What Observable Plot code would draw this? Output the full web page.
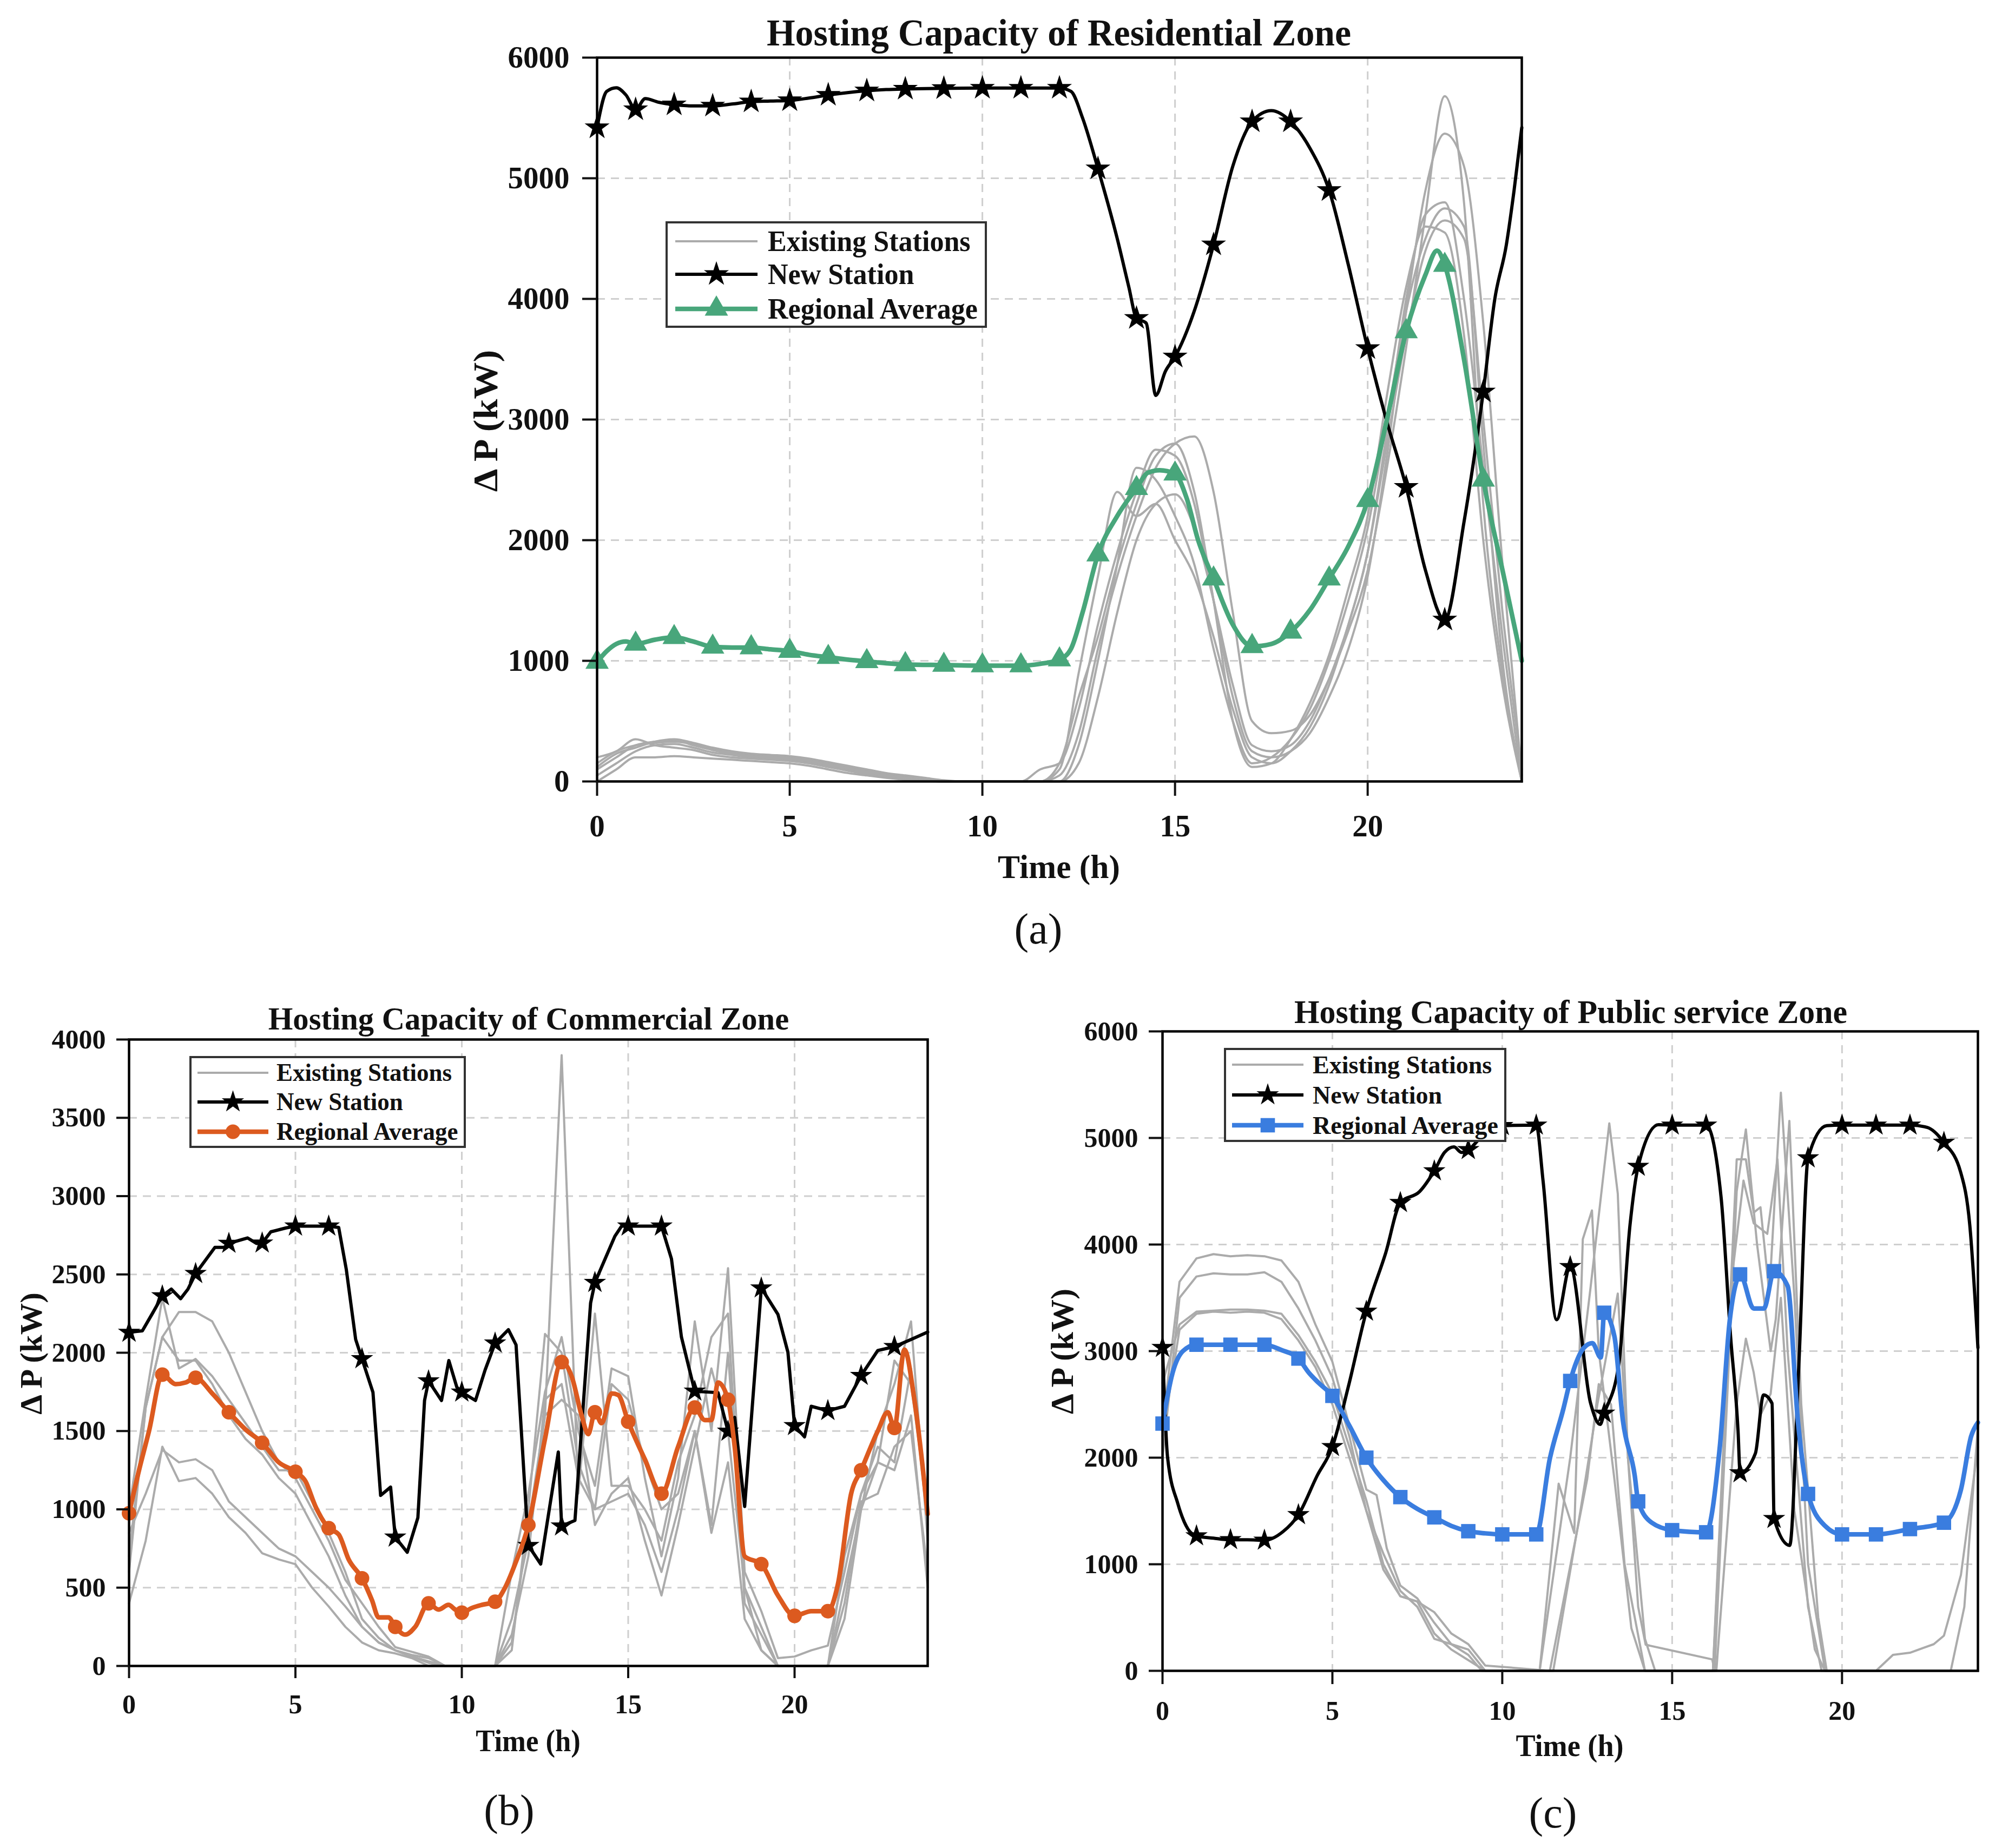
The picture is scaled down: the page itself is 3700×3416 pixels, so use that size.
<!DOCTYPE html>
<html><head><meta charset="utf-8">
<script src="https://cdn.jsdelivr.net/npm/d3@7"></script>
<script src="https://cdn.jsdelivr.net/npm/@observablehq/plot@0.6"></script>
<style>
body{margin:0;background:#fff;}
#page{position:relative;width:3700px;height:3416px;background:#fff;overflow:hidden;font-family:"Liberation Serif","Times New Roman",serif;color:#111;}
.abs{position:absolute;white-space:nowrap;line-height:1;font-family:"Liberation Serif","Times New Roman",serif;}
.legend{position:absolute;border:4px solid #333;background:#fff;box-sizing:border-box;}
</style></head><body><div id="page"></div>
<script>
// ---------------- DATA ----------------
const halfHours = [0,0.5,1,1.5,2,2.5,3,3.5,4,4.5,5,5.5,6,6.5,7,7.5,8,8.5,9,9.5,10,10.5,11,11.5,12,12.5,13,13.5,14,14.5,15,15.5,16,16.5,17,17.5,18,18.5,19,19.5,20,20.5,21,21.5,22,22.5,23,23.5,24];
const xTicks = [0,5,10,15,20];

// (a) Residential
const resNewT = [0,0.25,0.5,0.75,1,1.25,1.6,2,2.5,3,3.5,4,4.5,5,5.5,6,6.5,7,7.5,8,9,10,11,12,12.3,12.6,13,13.5,13.8,14,14.25,14.5,14.75,15,15.5,16,16.5,17,17.5,18,18.5,19,19.5,20,20.5,21,21.5,22,22.5,23,23.3,23.6,23.8,24];
const resNewP = [5420,5720,5750,5690,5570,5660,5630,5610,5600,5600,5615,5635,5640,5645,5665,5690,5710,5725,5735,5740,5745,5748,5748,5748,5720,5500,5080,4500,4100,3840,3800,3200,3400,3520,3900,4450,5100,5470,5560,5470,5250,4900,4280,3590,2980,2440,1750,1340,2150,3230,4000,4450,4900,5420];
const resAvgT = [0,0.25,0.5,0.75,1,1.5,2,2.5,3,3.5,4,4.5,5,5.5,6,6.5,7,7.5,8,9,10,11,11.5,12,12.3,12.6,13,13.5,14,14.3,14.6,15,15.3,15.6,16,16.5,17,17.5,18,18.5,19,19.5,20,20.5,21,21.5,21.8,22,22.5,23,23.5,24];
const resAvgP = [990,1080,1140,1160,1140,1175,1195,1160,1115,1110,1110,1095,1080,1050,1030,1010,995,980,970,965,960,960,975,1010,1100,1400,1880,2200,2430,2560,2580,2550,2350,2000,1680,1300,1120,1140,1240,1420,1680,1950,2330,3000,3730,4200,4400,4280,3500,2500,1750,1000];
const resExisting1 = [150,250,300,320,330,310,270,240,220,210,200,180,150,120,90,60,40,20,5,0,0,0,0,0,50,400,1100,1700,2200,2600,2800,2860,2400,1400,500,400,420,550,850,1250,1750,2600,3600,4700,5680,4800,2300,900,0];
const resExisting2 = [50,150,250,300,310,280,240,220,200,190,180,160,130,100,70,40,20,10,0,0,0,0,0,100,150,600,1300,1900,2400,2750,2700,2300,1500,700,250,200,250,400,700,1100,1700,2700,3900,4900,5370,5100,3800,1800,50];
const resExisting3 = [200,250,350,300,280,260,220,200,190,180,170,150,120,90,60,40,20,10,0,0,0,0,0,0,100,900,1700,2400,2200,2300,2000,1700,1200,600,200,150,250,450,800,1300,1900,2900,4000,4700,4800,4000,2600,1200,0];
const resExisting4 = [100,200,300,330,340,300,260,230,210,200,190,170,140,110,80,50,30,10,0,0,0,0,0,0,0,300,1000,1800,2600,2500,2200,1800,1100,500,150,200,350,600,1000,1500,2100,3000,3900,4500,4750,4600,2800,1000,0];
const resExisting5 = [0,100,200,200,210,200,190,180,170,160,150,130,100,70,50,30,15,5,0,0,0,0,0,0,0,150,700,1400,2000,2300,2380,2100,1500,800,300,250,300,500,850,1300,1900,2800,3700,4400,4650,4500,3000,1400,100];
const resExisting6 = [120,230,280,330,350,320,280,250,230,220,210,190,160,130,100,70,50,30,10,0,0,0,0,0,150,700,1200,1800,2300,2700,2800,2400,1500,500,120,150,350,650,1050,1600,2200,3200,4100,4600,4550,3700,2000,800,0];

// (b) Commercial
const comNewT = [0,0.4,0.7,1,1.27,1.55,1.77,2,2.58,2.86,3,3.56,3.83,4,4.26,4.72,5,5.5,6,6.3,6.53,6.81,7,7.33,7.56,7.86,8,8.36,8.68,8.88,9,9.39,9.61,9.85,10,10.41,10.7,11,11.4,11.63,12,12.37,12.9,13,13.4,13.87,14,14.6,14.8,15,16,16.3,16.6,17,17.3,17.7,18,18.2,18.5,19,19.5,19.8,20,20.3,20.5,21,21.5,22,22.5,23,23.5,24];
const comNewP = [2130,2140,2250,2363,2406,2345,2406,2505,2673,2673,2698,2733,2698,2700,2772,2797,2808,2808,2808,2800,2530,2085,1961,1747,1089,1142,822,726,947,1695,1820,1695,1950,1780,1748,1695,1890,2061,2147,2050,769,651,1366,893,929,2317,2448,2744,2808,2808,2808,2600,2100,1754,1750,1745,1498,1587,1018,2413,2245,2003,1534,1463,1658,1630,1658,1854,2014,2039,2085,2132];
const comAvgT = [0,0.3,0.6,1,1.4,1.7,2,2.5,3,3.5,4,4.5,5,5.3,5.6,6,6.3,6.6,7,7.3,7.5,7.8,8,8.3,8.6,9,9.3,9.6,9.8,10,10.3,10.6,11,11.3,11.6,12,12.5,13,13.3,13.6,13.8,14,14.2,14.5,14.7,15,15.5,16,16.5,17,17.3,17.5,17.7,18,18.2,18.5,19,19.5,20,20.5,21,21.3,21.7,22,22.5,22.8,23,23.3,23.6,24];
const comAvgP = [975,1250,1500,1860,1800,1810,1840,1740,1620,1510,1425,1300,1240,1180,1020,880,840,680,560,420,310,310,250,200,250,400,360,390,360,340,370,390,410,500,650,900,1450,1940,1850,1600,1480,1620,1550,1740,1730,1560,1320,1100,1400,1650,1570,1570,1810,1700,1400,700,650,450,320,350,350,520,1100,1250,1500,1620,1520,2020,1700,970];
const comExisting1 = [600,1650,2100,2260,2260,2200,2000,1750,1500,1300,1200,1000,800,550,400,250,120,90,60,0,0,0,0,600,1100,1750,2100,1500,1150,1900,1850,1200,700,1200,2200,1500,2540,600,350,50,60,100,130,600,1100,1300,1950,1800,1000];
const comExisting2 = [1000,1700,2350,1900,1960,1850,1700,1550,1400,1250,1250,1050,850,600,300,180,100,70,50,0,0,0,0,300,800,1600,3900,1100,2250,1150,1150,1000,800,1300,1600,2100,2250,400,200,0,0,0,0,500,1000,1500,1800,2200,800];
const comExisting3 = [850,1100,1380,1300,1320,1250,1050,950,850,750,700,600,500,380,250,150,100,60,20,0,0,0,0,200,700,1700,1800,1200,1000,1050,1100,900,600,1000,1500,850,1300,300,100,0,0,0,0,400,1050,1100,1400,1500,600];
const comExisting4 = [400,800,1400,1180,1200,1100,950,850,720,680,650,500,380,250,150,100,80,50,0,0,0,0,0,150,900,1600,1700,1600,900,1100,1200,800,450,900,1400,1900,1500,500,250,0,0,0,0,300,1000,1300,1250,1600,500];
const comExisting5 = [700,1650,2100,1950,1950,1800,1600,1450,1350,1200,1100,900,700,450,250,150,100,60,30,0,0,0,0,100,1000,2120,2000,1300,1000,1800,1700,1300,1000,1100,1500,900,2000,500,100,0,0,0,0,700,1100,1400,1300,1900,900];

// (c) Public service
const pubNewT = [0,0.15,0.45,0.75,1,1.5,2,2.5,3,3.55,4,4.55,5,5.47,6,6.57,7,7.57,8,8.3,8.58,8.8,9,9.58,10,11,11.2,11.6,12,12.6,12.88,13,13.43,13.76,14,14.6,15,16,16.44,16.72,16.94,17,17.45,17.69,17.94,18,18.46,18.73,19,19.55,20,21,22,22.5,23,23.49,23.76,24];
const pubNewP = [3033,2000,1570,1330,1266,1245,1230,1230,1225,1307,1464,1830,2103,2667,3373,3922,4393,4498,4691,4864,4916,4864,4890,5073,5115,5120,4600,3295,3792,2510,2312,2416,2877,4184,4733,5125,5120,5120,4445,3138,2249,1857,2040,2589,2510,1428,1177,2877,4812,5115,5120,5120,5120,5100,4958,4680,4184,3033];
const pubAvgT = [0,0.3,0.6,1,2,3,3.5,4,4.3,4.6,5,5.5,6,6.5,7,7.5,8,8.5,9,9.5,10,11,11.4,11.8,12,12.4,12.65,12.9,13,13.3,13.55,13.9,14,14.4,15,16,16.4,16.7,16.9,17,17.4,17.7,18,18.4,18.7,19,19.5,20,21,22,23,23.5,23.8,24];
const pubAvgP = [2320,2800,3000,3060,3060,3060,3010,2930,2800,2700,2580,2300,2000,1790,1630,1520,1440,1360,1310,1290,1280,1280,1990,2460,2720,3030,3075,2940,3360,3140,2350,1830,1590,1390,1320,1300,2090,3300,3660,3720,3400,3400,3750,3610,2350,1660,1360,1280,1280,1330,1390,1700,2200,2330];
const pubExisting1T = [0,0.5,1,1.5,2,2.5,3,3.5,4,4.5,5,5.5,6,6.3,6.6,7,7.5,8,8.5,9,9.4,11.1,11.66,12.12,12.37,12.64,12.84,13.3,13.8,14.2,16.2,16.9,17.17,17.4,17.6,17.86,18.2,18.6,19.0,19.5,23.2,23.6,24];
const pubExisting1P = [2300,3650,3870,3910,3890,3900,3890,3850,3650,3250,2900,2300,1700,1650,1150,800,680,450,250,150,0,0,1756,1294,4050,4320,3000,1800,400,0,0,4800,4800,4300,4350,3540,5425,3500,1000,0,0,600,2300];
const pubExisting2T = [0,0.5,1,1.5,2,2.5,3,3.5,4,4.5,5,5.5,6,6.5,7,7.5,8,8.5,9,9.5,11.1,12,12.6,13.15,13.4,13.7,14.0,14.22,16.18,16.25,16.9,17.17,17.5,17.9,18.05,18.45,18.8,19.3,19.55,21.0,21.5,22,22.7,23,23.5,24];
const pubExisting2P = [2000,3500,3700,3730,3720,3720,3740,3650,3400,3100,2750,2200,1500,950,700,650,350,200,100,0,0,2000,3600,5137,4477,2000,600,245,107,0,4500,5080,4000,3000,3300,5160,2500,500,0,0,150,170,250,330,900,2100];
const pubExisting3T = [0,0.5,1,1.5,2,2.5,3,3.5,4,4.5,5,5.5,6,6.5,7,7.5,8,8.5,9,9.5,11.4,12.5,12.84,13.2,13.6,14.2,16.3,16.9,17.17,17.4,17.6,17.9,18.2,18.6,19.2,19.5,24];
const pubExisting3P = [2700,3250,3370,3380,3390,3390,3380,3350,3150,2900,2600,2100,1600,1000,700,650,550,350,250,50,0,1800,2690,2500,1000,0,0,2500,3117,2800,2400,2600,3500,1500,200,0,0];
const pubExisting4T = [0,0.5,1,1.5,2,2.5,3,3.5,4,4.5,5,5.5,6,6.5,7,7.5,8,8.5,9,9.5,11.5,12.3,12.8,13.4,13.7,14.2,14.5,16.2,16.8,17.1,17.4,17.8,18.1,18.4,19.0,19.4,24];
const pubExisting4P = [2200,3200,3350,3370,3360,3370,3360,3300,3100,2850,2500,2000,1500,1100,750,600,300,250,200,0,0,1500,2500,3540,2000,300,0,0,3800,4600,4200,4100,4800,3000,600,0,0];

const legendLabels = ["Existing Stations","New Station","Regional Average"];
const titles = ["Hosting Capacity of Residential Zone","Hosting Capacity of Commercial Zone","Hosting Capacity of Public service Zone"];
const yTicksA = [0,1000,2000,3000,4000,5000,6000];
const yTicksB = [0,500,1000,1500,2000,2500,3000,3500,4000];
const yTicksC = [0,1000,2000,3000,4000,5000,6000];

// ---------------- helpers ----------------
const rows = (t, p, s) => t.map((x, i) => ({t: x, p: p[i], s}));
const greyRows = (list) => list.flatMap((e, k) => Array.isArray(e) ? rows(halfHours, e, "s" + k) : rows(e.t, e.p, "s" + k));
const markers = (r) => r.filter(d => Number.isInteger(d.t) && d.t < 24);
const page = document.getElementById("page");
const FONT = '"Liberation Serif","Times New Roman",serif';
const W_GREY = 4, W_NEW = 6, W_AVG = 8.5, GREY = "#ababab";

function drawPanel(cfg) {
  const [x0, y0, x1, y1] = cfg.frame;
  const mL = 220, mR = 40, mT = 40, mB = 140;
  const W = x1 - x0 + mL + mR, H = y1 - y0 + mT + mB;
  const newR = rows(cfg.newT, cfg.newP, "new");
  const avgR = rows(cfg.avgT, cfg.avgP, "avg");
  const gridStyle = {stroke: "#cfcfcf", strokeOpacity: 1, strokeWidth: 3, strokeDasharray: "15,11"};
  const chart = Plot.plot({
    width: W, height: H, marginLeft: mL, marginRight: mR, marginTop: mT, marginBottom: mB,
    style: {fontFamily: FONT, fontSize: cfg.tickFont + "px", fontWeight: "bold", color: "#111", background: "none", overflow: "visible"},
    x: {domain: [0, 24], label: null},
    y: {domain: [0, cfg.yTicks[cfg.yTicks.length - 1]], label: null},
    marks: [
      Plot.gridX(xTicks.slice(1), gridStyle),
      Plot.gridY(cfg.yTicks.slice(1, -1), gridStyle),
      Plot.line(greyRows(cfg.existing), {x: "t", y: "p", z: "s", stroke: GREY, strokeWidth: W_GREY, curve: cfg.greyCurve}),
      Plot.line(newR, {x: "t", y: "p", stroke: "#000", strokeWidth: W_NEW, curve: cfg.newCurve}),
      Plot.dot(markers(newR), {x: "t", y: "p", symbol: "star", fill: "#000", r: cfg.starR}),
      Plot.line(avgR, {x: "t", y: "p", stroke: cfg.color, strokeWidth: W_AVG, curve: "monotone-x"}),
      Plot.dot(markers(avgR), {x: "t", y: "p", symbol: cfg.symbol, fill: cfg.color, r: cfg.symR}),
      Plot.frame({stroke: "#000", strokeWidth: 4.5}),
      Plot.axisX(xTicks, {anchor: "bottom", tickSize: cfg.tickSize, tickPadding: cfg.xPad, strokeWidth: 4, tickFormat: d => String(d), label: null}),
      Plot.axisY(cfg.yTicks, {anchor: "left", tickSize: cfg.tickSize, tickPadding: cfg.yPad, strokeWidth: 4, tickFormat: d => String(d), label: null})
    ]
  });
  d3.select(chart).selectAll("text")
    .style("font-family", FONT).style("font-weight", "bold").style("font-size", cfg.tickFont + "px");
  const wrap = document.createElement("div");
  wrap.style.cssText = `position:absolute;left:${x0 - mL}px;top:${y0 - mT}px;width:${W}px;height:${H}px;`;
  wrap.appendChild(chart);
  page.appendChild(wrap);
}

function addText(txt, x, y, size, opt = {}) {
  const d = document.createElement("div");
  d.className = "abs";
  d.textContent = txt;
  d.style.left = x + "px"; d.style.top = y + "px";
  d.style.fontSize = size + "px";
  d.style.fontWeight = opt.normal ? "normal" : "bold";
  page.appendChild(d);
  let tr = "translate(-50%,-50%)";
  if (opt.rotate) tr += " rotate(-90deg)";
  if (opt.width) tr += ` scaleX(${opt.width / d.offsetWidth})`;
  d.style.transform = tr;
}

function addLegend(L, color, symbol, symR, starR) {
  const [bx0, by0, bx1, by1] = L.box;
  const box = document.createElement("div");
  box.className = "legend";
  box.style.cssText += `left:${bx0}px;top:${by0}px;width:${bx1 - bx0}px;height:${by1 - by0}px;`;
  page.appendChild(box);
  const svg = d3.select(page).append("svg")
    .style("position", "absolute").style("left", bx0 + "px").style("top", by0 + "px")
    .attr("width", bx1 - bx0).attr("height", by1 - by0);
  const lx0 = L.line[0] - bx0, lx1 = L.line[1] - bx0, cx = (lx0 + lx1) / 2;
  const ry = L.rows.map(r => r - by0);
  svg.append("line").attr("x1", lx0).attr("x2", lx1).attr("y1", ry[0]).attr("y2", ry[0]).attr("stroke", GREY).attr("stroke-width", W_GREY);
  svg.append("line").attr("x1", lx0).attr("x2", lx1).attr("y1", ry[1]).attr("y2", ry[1]).attr("stroke", "#000").attr("stroke-width", W_NEW);
  svg.append("path").attr("d", d3.symbol(d3.symbolStar, Math.PI * starR * starR)()).attr("transform", `translate(${cx},${ry[1]})`).attr("fill", "#000");
  svg.append("line").attr("x1", lx0).attr("x2", lx1).attr("y1", ry[2]).attr("y2", ry[2]).attr("stroke", color).attr("stroke-width", W_AVG);
  svg.append("path").attr("d", d3.symbol(symbol, Math.PI * symR * symR)()).attr("transform", `translate(${cx},${ry[2]})`).attr("fill", color);
  let scale = 1;
  legendLabels.forEach((lab, i) => {
    const d = document.createElement("div");
    d.className = "abs";
    d.textContent = lab;
    d.style.cssText += `left:${L.textX}px;top:${L.rows[i]}px;font-size:${L.font}px;font-weight:bold;transform-origin:left center;`;
    page.appendChild(d);
    if (i === 0) scale = L.textW / d.offsetWidth;
    d.style.transform = `translateY(-50%) scaleX(${scale})`;
  });
}

// ---------------- panels ----------------
const GREEN = "#48a67b", ORANGE = "#dc5a1f", BLUE = "#3a7ddf";

drawPanel({frame: [1103, 106, 2812, 1444], yTicks: yTicksA, tickFont: 57, tickSize: 27, xPad: 34, yPad: 24,
  newT: resNewT, newP: resNewP, avgT: resAvgT, avgP: resAvgP,
  existing: [resExisting1, resExisting2, resExisting3, resExisting4, resExisting5, resExisting6],
  greyCurve: "monotone-x", newCurve: "monotone-x", color: GREEN, symbol: "triangle", symR: 16, starR: 14.5});
drawPanel({frame: [238, 1921, 1714, 3079], yTicks: yTicksB, tickFont: 50, tickSize: 23, xPad: 29, yPad: 20,
  newT: comNewT, newP: comNewP, avgT: comAvgT, avgP: comAvgP,
  existing: [comExisting1, comExisting2, comExisting3, comExisting4, comExisting5],
  greyCurve: "linear", newCurve: "linear", color: ORANGE, symbol: "circle", symR: 13.5, starR: 13});
drawPanel({frame: [2148, 1906, 3655, 3088], yTicks: yTicksC, tickFont: 50, tickSize: 25, xPad: 30, yPad: 20,
  newT: pubNewT, newP: pubNewP, avgT: pubAvgT, avgP: pubAvgP,
  existing: [{t: pubExisting1T, p: pubExisting1P}, {t: pubExisting2T, p: pubExisting2P}, {t: pubExisting3T, p: pubExisting3P}, {t: pubExisting4T, p: pubExisting4P}],
  greyCurve: "linear", newCurve: "monotone-x", color: BLUE, symbol: "square", symR: 15, starR: 13});

// titles, axis labels, panel letters
addText(titles[0], 1957, 61, 70, {width: 1080});
addText(titles[1], 977, 1883, 60, {width: 962});
addText(titles[2], 2903, 1870, 62, {width: 1022});
addText("Time (h)", 1957, 1602, 62, {width: 226});
addText("Time (h)", 976, 3217, 57, {width: 194});
addText("Time (h)", 2901, 3227, 58, {width: 199});
addText("Δ P (kW)", 898, 778, 64, {rotate: true, width: 262});
addText("Δ P (kW)", 58, 2502, 58, {rotate: true, width: 225});
addText("Δ P (kW)", 1963, 2498, 60, {rotate: true, width: 232});
addText("(a)", 1919, 1717, 80, {normal: true});
addText("(b)", 941, 3346, 80, {normal: true});
addText("(c)", 2870, 3351, 80, {normal: true});

// legends
addLegend({box: [1230, 409, 1824, 606], line: [1248, 1400], textX: 1419, rows: [446, 507, 571], font: 54, textW: 375}, GREEN, d3.symbolTriangle, 16, 14.5);
addLegend({box: [350, 1952, 861, 2122], line: [365, 496], textX: 511, rows: [1983, 2037, 2092], font: 46, textW: 324}, ORANGE, d3.symbolCircle, 13.5, 13);
addLegend({box: [2262, 1937, 2784, 2111], line: [2277, 2409], textX: 2426, rows: [1968, 2024, 2080], font: 47, textW: 331}, BLUE, d3.symbolSquare, 15, 13);
</script>
</body></html>
